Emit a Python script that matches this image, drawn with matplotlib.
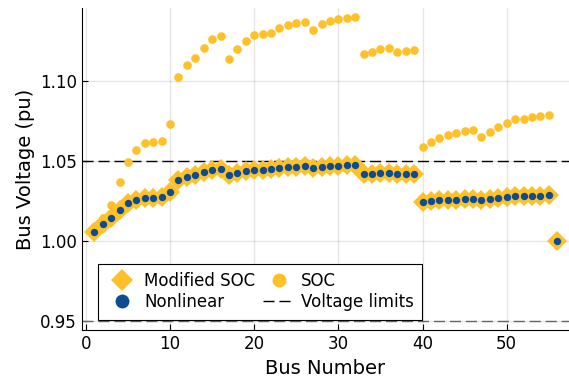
import matplotlib
matplotlib.use("Agg")
import matplotlib.pyplot as plt
from matplotlib.lines import Line2D
import numpy as np

bus = np.arange(1, 57)

soc = [1.006, 1.0142, 1.0225, 1.037, 1.0496, 1.0567, 1.061, 1.062, 1.0625, 1.073,
       1.1023, 1.110, 1.1144, 1.1208, 1.126, 1.128, 1.114, 1.120, 1.1248, 1.129,
       1.1296, 1.130, 1.1329, 1.135, 1.1363, 1.1367, 1.1317, 1.1356, 1.1375, 1.1388,
       1.1394, 1.140, 1.1167, 1.1181, 1.120, 1.1204, 1.1179, 1.1189, 1.1196,
       1.0588, 1.0619, 1.0644, 1.0665, 1.0675, 1.0686, 1.0694, 1.0648, 1.0681, 1.0715,
       1.0735, 1.076, 1.0763, 1.0773, 1.0781, 1.0786, 1.000]

nonlinear = [1.0058, 1.0106, 1.0142, 1.0192, 1.0236, 1.0256, 1.0267, 1.027, 1.0273, 1.0304,
             1.0383, 1.0402, 1.0414, 1.0431, 1.0444, 1.045, 1.0412, 1.0427, 1.0437, 1.0446,
             1.0446, 1.045, 1.0456, 1.0463, 1.0465, 1.0467, 1.0454, 1.0465, 1.047, 1.0471,
             1.0473, 1.0473, 1.0417, 1.0419, 1.0423, 1.0423, 1.0419, 1.042, 1.042,
             1.0242, 1.0248, 1.0254, 1.0258, 1.026, 1.0263, 1.0265, 1.0256, 1.0263, 1.0269,
             1.0273, 1.0279, 1.0281, 1.0283, 1.0285, 1.0288, 0.9998]

modified_soc = list(nonlinear)

v_limits = [0.95, 1.05]

orange = "#FFC12A"
blue = "#0F4C8F"
dash = (0, (8, 3.5))

fig = plt.figure(figsize=(5.69, 3.83), dpi=100)
ax = fig.add_axes([0.144, 0.138, 0.856, 0.841])

ax.plot(bus, modified_soc, "D", color=orange, ms=10, mew=0, zorder=3)
ax.plot(bus, soc, "o", color=orange, ms=6.2, mew=0, zorder=2)
ax.plot(bus, nonlinear, "o", color=blue, ms=5.3, mew=0, zorder=4)
ax.axhline(v_limits[1], color="black", ls=dash, lw=1, zorder=1)
ax.axhline(v_limits[0], color="0.4", ls=dash, lw=1, zorder=1)

ax.set_xlim(-0.47, 57.4)
ax.set_ylim(0.9444, 1.1456)
ax.set_xticks([0, 10, 20, 30, 40, 50])
ax.set_yticks([0.95, 1.00, 1.05, 1.10])
ax.set_yticklabels(["0.95", "1.00", "1.05", "1.10"])
ax.grid(True, color="black", alpha=0.1, lw=1)
ax.set_axisbelow(True)
for s in ["top", "right"]:
    ax.spines[s].set_visible(False)
ax.tick_params(direction="in", labelsize=12, length=4)
ax.set_xlabel("Bus Number", fontsize=14)
ax.set_ylabel("Bus Voltage (pu)", fontsize=14)

# legend handles drawn larger than the plot markers
handles = [
    Line2D([], [], ls="none", marker="D", color=orange, ms=10.8, mew=0),
    Line2D([], [], ls="none", marker="o", color=blue, ms=10, mew=0),
    Line2D([], [], ls="none", marker="o", color=orange, ms=10, mew=0),
    Line2D([], [], color="black", ls=dash, lw=1),
]
labels = ["Modified SOC", "Nonlinear", "SOC", "Voltage limits"]
leg = ax.legend(handles, labels, ncol=2, loc="lower left", bbox_to_anchor=(0.033, 0.033),
                borderaxespad=0, fontsize=12, fancybox=False, framealpha=1,
                edgecolor="black", handlelength=1.86, handletextpad=0.4,
                columnspacing=0.48, labelspacing=0.2, borderpad=0.5)
leg.get_frame().set_linewidth(0.8)

fig.savefig("out.png", dpi=100)
